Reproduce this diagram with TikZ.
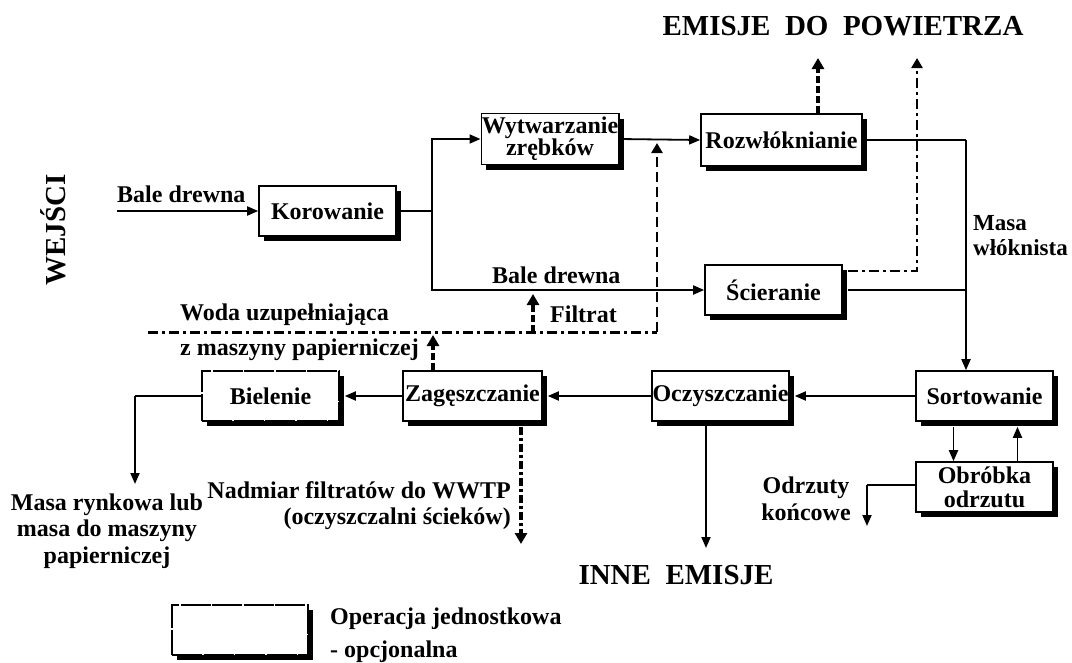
\documentclass[tikz,border=0pt]{standalone}
\usepackage{fontspec}
\setmainfont{Liberation Serif}
\usetikzlibrary{arrows.meta,shadows}
\begin{document}
\begin{tikzpicture}[x=1pt,y=-1pt,
  box/.style={draw,line width=1.6pt,fill=white,minimum width=137pt,minimum height=50pt,
    inner sep=0.5pt,font=\fontsize{24}{24}\bfseries\selectfont,align=center,
    drop shadow={shadow xshift=5pt,shadow yshift=-5pt,fill=black,opacity=1}},
  optbox/.style={box,dash pattern=on 30pt off 1.5pt},
  lbl/.style={inner sep=0pt,font=\fontsize{24}{26.5}\bfseries\selectfont},
  big/.style={inner sep=0pt,font=\fontsize{29}{30}\bfseries\selectfont},
  conn/.style={line width=1.8pt,-{Triangle[length=11pt,width=9pt]}},
  plain/.style={line width=1.8pt},
  thickdash/.style={line width=4pt,dash pattern=on 7pt off 3pt,-{Triangle[length=11pt,width=12pt]}},
  thindash/.style={line width=2.6pt,dash pattern=on 10pt off 5pt,-{Triangle[length=10pt,width=11pt]}},
  dashdotline/.style={line width=3pt,dash pattern=on 10pt off 4pt on 3pt off 4pt},
  dashdotarrow/.style={line width=2.6pt,dash pattern=on 10pt off 4pt on 3pt off 4pt,-{Triangle[length=10pt,width=11pt]}}
]
\useasboundingbox (0,0) rectangle (1072,662);
% titles
\node[big] (emp) at (843,26) {EMISJE\ \ DO\ \ POWIETRZA};
\node[big] (inne) at (676,575) {INNE\ \ EMISJE};
\node[big,rotate=90] (wej) at (53,230) {WEJŚCI};
% boxes
\node[box] (kor) at (327.5,211) {Korowanie};
\node[box,minimum width=136pt,minimum height=51pt,font=\fontsize{24}{22}\bfseries\selectfont] (wyt) at (550,139) {Wytwarzanie\\ zrębków};
\node[box,minimum width=161pt,minimum height=52pt] (roz) at (781.5,140) {Rozwłóknianie};
\node[box] (sci) at (773.5,290) {Ścieranie};
\node[box] (sort) at (984.5,396) {Sortowanie};
\node[box] (ocz) at (720.5,396) {Oczyszczanie};
\node[box,minimum width=139pt] (zag) at (472.5,396) {Zagęszczanie};
\node[optbox] (biel) at (270.5,396) {Bielenie};
\node[box] (obr) at (984.5,487) {Obróbka\\odrzutu};
\node[optbox,minimum width=136pt] (leg) at (240,630) {};
% labels
\node[lbl,anchor=base west] (bd1) at (117,202) {Bale drewna};
\node[lbl,anchor=base west] (bd2) at (492,283) {Bale drewna};
\node[lbl,anchor=base west] (filt) at (550,322) {Filtrat};
\node[lbl,anchor=base west] (woda) at (180,320) {Woda uzupełniająca};
\node[lbl,anchor=base west] (zmas) at (180,355) {z maszyny papierniczej};
\node[lbl,anchor=base west,font=\fontsize{23}{24}\bfseries\selectfont] (masa1) at (973,230) {Masa};
\node[lbl,anchor=base west,font=\fontsize{23}{24}\bfseries\selectfont] (masa2) at (973,255) {włóknista};
\node[lbl,align=center] (rynk) at (107,531) {Masa rynkowa lub\\masa do maszyny\\papierniczej};
\node[lbl,align=right,anchor=north east] (nadm) at (511,481) {Nadmiar filtratów do WWTP\\(oczyszczalni ścieków)};
\node[lbl,align=center] (odrz) at (806,499) {Odrzuty\\końcowe};
\node[lbl,anchor=base west] (op1) at (330,624) {Operacja jednostkowa};
\node[lbl,anchor=base west] (op2) at (330,657) {- opcjonalna};
% coordinates
\coordinate (in) at (117,211);
\coordinate (split) at (432,211);
\coordinate (mv) at (966,140);
\coordinate (wl) at (148,332);
\coordinate (wr) at (657,332);
\coordinate (emt1) at (818,58);
\coordinate (emt2) at (917,58);
\coordinate (bl) at (135,396);
\coordinate (blend) at (135,484);
\coordinate (zagend) at (521,544);
\coordinate (oczend) at (706,548);
\coordinate (odl) at (867,485);
\coordinate (odend) at (867,526);
% connectors
\draw[conn] (in) -- (kor.west);
\draw[plain] (kor.east) -- (split);
\draw[conn] (split) |- (wyt.west);
\draw[conn] (split) |- (sci.west);
\draw[conn] (wyt.east) -- (roz.west);
\draw[plain] (roz.east) -- (mv);
\draw[conn] (mv) -- (mv |- sort.north);
\draw[plain] ([xshift=5pt]sci.east) -- (sci.east -| mv);
\draw[conn] (sort.west) -- ([xshift=5pt]ocz.east);
\draw[conn] (ocz.west) -- ([xshift=5pt]zag.east);
\draw[conn] (zag.west) -- ([xshift=5pt]biel.east);
\draw[plain] (biel.west) -- (bl);
\draw[conn] (bl) -- (blend);
\draw[conn] (ocz.south -| oczend) -- (oczend);
\draw[conn] ([xshift=-31pt,yshift=-5pt]sort.south) -- ([xshift=-31pt]obr.north);
\draw[conn] ([xshift=33pt]obr.north) -- ([xshift=33pt,yshift=-5pt]sort.south);
\draw[plain] (obr.west |- odl) -- (odl);
\draw[conn] (odl) -- (odend);
% dashed flows
\draw[thickdash] (roz.north -| emt1) -- (emt1);
\draw[dashdotarrow] ([xshift=5pt,yshift=19pt]sci.east) -| (emt2);
\draw[dashdotline] (wl) -- (wr);
\draw[thindash] (wr) -- (657,143);
\draw[thickdash] (533,332) -- (533,294);
\draw[thickdash] (zag.north -| 433,0) -- (433,335);
\draw[thickdash,dash pattern=on 8pt off 3pt on 3pt off 3pt] ([yshift=-5pt]zag.south -| zagend) -- (zagend);
\end{tikzpicture}
\end{document}
